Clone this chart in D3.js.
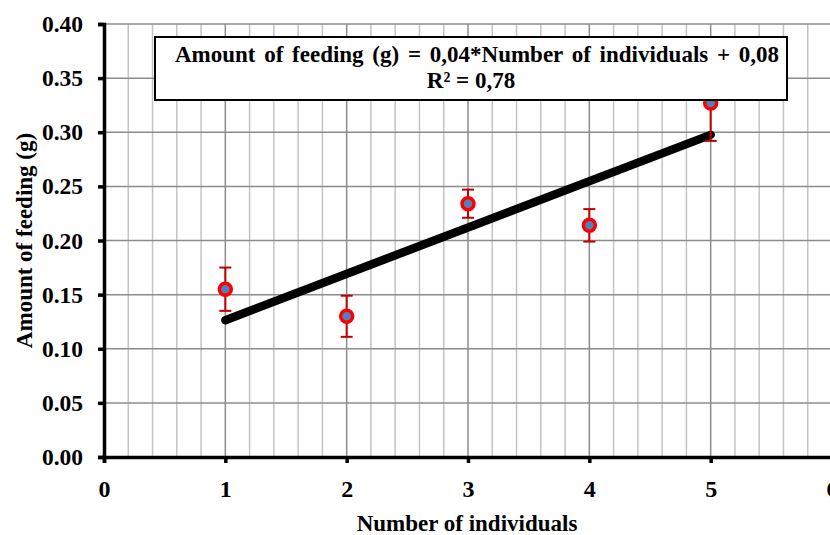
<!DOCTYPE html>
<html>
<head>
<meta charset="utf-8">
<script src="https://cdn.jsdelivr.net/npm/d3@7"></script>
<style>
  body { margin: 0; background: #fff; }
</style>
</head>
<body>
<div id="chart"></div>
<script>
// data
const individuals = [1, 2, 3, 4, 5];
const feeding = [0.155, 0.130, 0.234, 0.214, 0.327];
const feedingErr = [0.020, 0.019, 0.013, 0.015, 0.035];

const xTicks = [0, 1, 2, 3, 4, 5, 6];
const yTicks = [0, 0.05, 0.10, 0.15, 0.20, 0.25, 0.30, 0.35, 0.40];
const equationText = "Amount of feeding (g) = 0,04*Number of individuals + 0,08";
const r2Text = "R\u00b2 = 0,78";

const FONT = "'Liberation Serif', 'Times New Roman', 'DejaVu Serif', serif";
const width = 830, height = 535;
const margin = {left: 104, top: 24, bottom: 78};

const svg = d3.select("#chart").append("svg")
    .attr("width", width)
    .attr("height", height);

const x = d3.scaleLinear().domain([0, 6]).range([margin.left, 832]);
const y = d3.scaleLinear().domain([0, 0.4]).range([height - margin.bottom, margin.top]);

// grid: minor verticals every 0.2, major at integers
const minor = d3.range(0, 30).map(i => i / 5).filter(v => v > 0 && Math.abs(v - Math.round(v)) > 1e-6);
svg.append("g")
    .selectAll("line")
    .data(minor)
    .enter().append("line")
    .attr("x1", d => x(d)).attr("x2", d => x(d))
    .attr("y1", y(0)).attr("y2", y(0.4))
    .attr("stroke", "#c4c4c4")
    .attr("stroke-width", 1.5);

svg.append("g")
    .selectAll("line")
    .data(xTicks.filter(d => d > 0))
    .enter().append("line")
    .attr("x1", d => x(d)).attr("x2", d => x(d))
    .attr("y1", y(0)).attr("y2", y(0.4))
    .attr("stroke", "#8c8c8c")
    .attr("stroke-width", 1.5);

svg.append("g")
    .selectAll("line")
    .data(yTicks.filter(d => d > 0))
    .enter().append("line")
    .attr("x1", x(0)).attr("x2", width)
    .attr("y1", d => y(d)).attr("y2", d => y(d))
    .attr("stroke", "#8c8c8c")
    .attr("stroke-width", 1.5);

// axes
const xAxis = svg.append("g")
    .attr("transform", `translate(0,${y(0)})`)
    .call(d3.axisBottom(x).tickValues(xTicks).tickFormat(d3.format("d")).tickSize(6).tickPadding(17));
const yAxis = svg.append("g")
    .attr("transform", `translate(${x(0)},0)`)
    .call(d3.axisLeft(y).tickValues(yTicks).tickFormat(d3.format(".2f")).tickSize(6).tickPadding(15));

[xAxis, yAxis].forEach(a => {
    a.attr("font-family", FONT).attr("font-weight", "bold");
    a.select(".domain").attr("stroke", "#000").attr("stroke-width", 3.5);
    a.selectAll(".tick line").attr("stroke", "#000").attr("stroke-width", 3.5);
});
xAxis.attr("font-size", 24);
yAxis.attr("font-size", 23.5);

// linear trendline
const mx = d3.mean(individuals), my = d3.mean(feeding);
const slope = d3.sum(individuals, (v, i) => (v - mx) * (feeding[i] - my)) / d3.sum(individuals, v => (v - mx) ** 2);
const intercept = my - slope * mx;
const xr = d3.extent(individuals);
svg.append("line")
    .attr("x1", x(xr[0])).attr("y1", y(intercept + slope * xr[0]))
    .attr("x2", x(xr[1])).attr("y2", y(intercept + slope * xr[1]))
    .attr("stroke", "#000")
    .attr("stroke-width", 8.5)
    .attr("stroke-linecap", "round");

// error bars
const eb = svg.append("g").attr("stroke", "#c00000").attr("stroke-width", 2);
individuals.forEach((v, i) => {
    const cx = x(v);
    eb.append("line").attr("x1", cx).attr("x2", cx)
        .attr("y1", y(feeding[i] - feedingErr[i])).attr("y2", y(feeding[i] + feedingErr[i]));
    [feeding[i] - feedingErr[i], feeding[i] + feedingErr[i]].forEach(e => {
        eb.append("line").attr("x1", cx - 6).attr("x2", cx + 6)
            .attr("y1", y(e)).attr("y2", y(e));
    });
});

// points
svg.append("g")
    .selectAll("circle")
    .data(individuals)
    .enter().append("circle")
    .attr("cx", d => x(d))
    .attr("cy", (d, i) => y(feeding[i]))
    .attr("r", 6)
    .attr("fill", "#4f81bd")
    .attr("stroke", "#ff0000")
    .attr("stroke-width", 3.5);

// equation box
svg.append("rect")
    .attr("x", 155).attr("y", 37)
    .attr("width", 632).attr("height", 63)
    .attr("fill", "#fff")
    .attr("stroke", "#000")
    .attr("stroke-width", 2);

const txt = svg.append("g")
    .attr("font-family", FONT)
    .attr("font-weight", "bold")
    .attr("fill", "#000");
txt.append("text")
    .attr("x", 477).attr("y", 62)
    .attr("text-anchor", "middle")
    .attr("font-size", 23)
    .style("word-spacing", "3px")
    .text(equationText);
txt.append("text")
    .attr("x", 471).attr("y", 88)
    .attr("text-anchor", "middle")
    .attr("font-size", 23)
    .text(r2Text);

// axis titles
txt.append("text")
    .attr("x", 467).attr("y", 531)
    .attr("text-anchor", "middle")
    .attr("font-size", 23)
    .text("Number of individuals");
txt.append("text")
    .attr("transform", `translate(32,${y(0.2)}) rotate(-90)`)
    .attr("text-anchor", "middle")
    .attr("font-size", 23)
    .text("Amount of feeding (g)");
</script>
</body>
</html>
